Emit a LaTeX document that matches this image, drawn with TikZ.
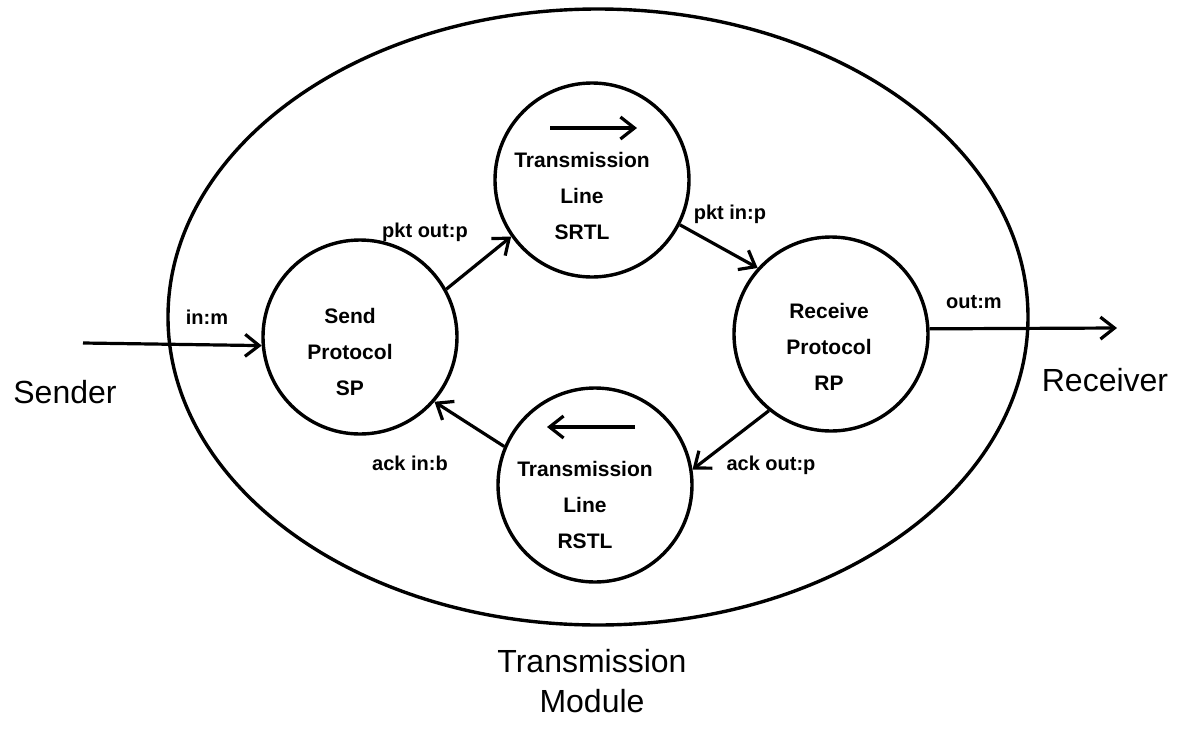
\documentclass[tikz,border=0pt]{standalone}
\usepackage{fontspec}
\setmainfont{Liberation Sans}
\usetikzlibrary{arrows.meta}
\usetikzlibrary{shapes.geometric}
\tikzstyle{Module}=[ellipse,draw,line width=1.7pt,minimum width=430pt,
minimum height=308pt,inner sep=0pt]
\tikzstyle{Proc}=[circle,draw,line width=1.7pt,minimum size=97pt,inner sep=0pt]
\tikzstyle{ProcText}=[align=center,inner sep=0pt,
font=\bfseries\fontsize{10.5}{18}\selectfont]
\tikzstyle{Edge}=[draw,line width=1.6pt,
-{Straight Barb[length=7pt,width=11pt,line width=1.6pt]}]
\tikzstyle{PortLbl}=[inner sep=0pt,font=\bfseries\fontsize{10}{12}\selectfont]
\tikzstyle{BigLbl}=[inner sep=0pt,align=center,font=\fontsize{16}{20}\selectfont]

\begin{document}
\begin{tikzpicture}[x=0.5pt,y=-0.5pt]
        \useasboundingbox (0,0) rectangle (1180,729);
        \node[Module](TM)at(598,317){};
        % the four processes
        \node[Proc](SP)at(360,337){};
        \node[Proc](SRTL)at(592,180){};
        \node[Proc](RP)at(831,334){};
        \node[Proc](RSTL)at(595,485){};
        \node[ProcText](SPtxt)at(350,352){Send\\Protocol\\SP};
        \node[ProcText](SRTLtxt)at(582,196){Transmission\\Line\\SRTL};
        \node[ProcText](RPtxt)at(829,347){Receive\\Protocol\\RP};
        \node[ProcText](RSTLtxt)at(585,505){Transmission\\Line\\RSTL};
        % direction marks
        \coordinate(SRa)at(550,128);
        \coordinate(SRb)at(637,128);
        \coordinate(RSa)at(635,427);
        \coordinate(RSb)at(547,427);
        \draw[Edge](SRa)--(SRb);
        \draw[Edge](RSa)--(RSb);
        % ports
        \coordinate(inS)at(83,343);
        \coordinate(outR)at(1117,328);
        \draw[Edge](inS)--(SP.185);
        \draw[Edge](SP.29)--(SRTL.215);
        \draw[Edge](SRTL.333)--(RP.138);
        \draw[Edge](RP.231)--(RSTL.9);
        \draw[Edge](RSTL.157)--(SP.319);
        \draw[Edge](RP.3)--(outR);
        \node[PortLbl](inm)at(207,317){in:m};
        \node[PortLbl](pktout)at(425,232){pkt out:p};
        \node[PortLbl](pktin)at(730,214){pkt in:p};
        \node[PortLbl](ackout)at(771,465){ack out:p};
        \node[PortLbl](ackin)at(410,463){ack in:b};
        \node[PortLbl](outm)at(974,302){out:m};
        % outside
        \node[BigLbl](snd)at(65,392){Sender};
        \node[BigLbl](rcv)at(1105,380){Receiver};
        \node[BigLbl](tmlbl)at(592,681){Transmission\\Module};
    \end{tikzpicture}
\end{document}
